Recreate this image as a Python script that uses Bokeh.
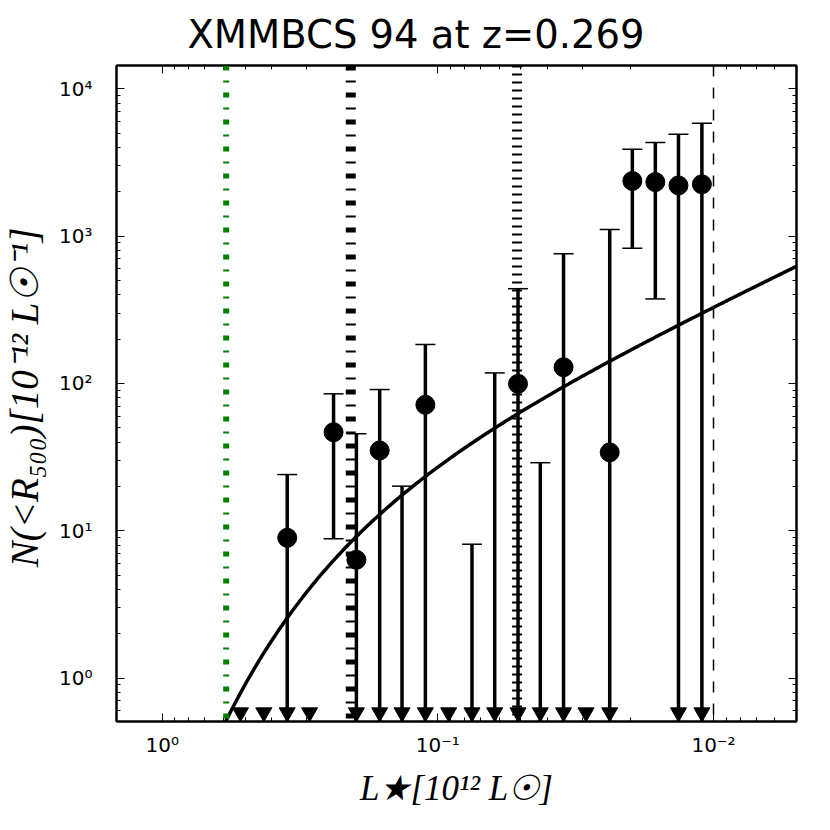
import numpy as np
from bokeh.plotting import figure
from bokeh.models import (Range1d, LogAxis, FixedTicker, CustomJSTickFormatter, Span)
from bokeh.embed import file_html
from bokeh.resources import INLINE

# ---------------- data ----------------
TITLE = "XMMBCS 94 at z=0.269"
X_LABEL = "L★[10¹² L☉]"
Y_LABEL = "N(<R₅₀₀)[10⁻¹² L☉⁻¹]"

# luminosity bins [1e12 Lsun]
lum = [0.520, 0.428, 0.352, 0.292, 0.239, 0.1975, 0.1626, 0.1349, 0.111, 0.0914,
       0.0752, 0.0622, 0.0512, 0.0425, 0.0350, 0.0290, 0.0238, 0.0197, 0.01626,
       0.0134, 0.01102]
# measured N(<R500) per bin (0 = no detection)
counts = [0, 0, 8.97, 0, 46.7, 6.36, 35.1, 0, 71.7, 0,
          0, 0, 99.5, 0, 129, 0, 34.1, 2370, 2330,
          2210, 2250]
# upper end of error bar (None = no bar)
err_hi = [None, None, 24.1, None, 85.1, 45.6, 91.0, 20.1, 184, None,
          8.1, 118, 440, 29.0, 759, None, 1110, 3890, 4320,
          4920, 5850]
# lower end of error bar (None = reaches below the axis -> upper-limit arrow)
err_lo = [None, None, None, None, 8.83, None, None, None, None, None,
          None, None, None, None, None, None, None, 828, 375,
          None, None]

# Schechter model fit
phi_star = 23.4
l_star = 0.204
alpha = -0.892

# vertical reference lines
ref_green_dashdot = 0.586
ref_black_dashdot = 0.207
ref_black_dotted = 0.0516
ref_black_dashed = 0.01

x_ticks = [1.0, 0.1, 0.01]
x_tick_labels = ["10⁰", "10⁻¹", "10⁻²"]
y_ticks = [1.0, 10.0, 100.0, 1000.0, 10000.0]
y_tick_labels = ["10⁰", "10¹", "10²", "10³", "10⁴"]

X_MAX, X_MIN = 1.465, 0.005
Y_MIN, Y_MAX = 0.508, 14400.0
TRI_Y = 0.585

# ---------------- figure ----------------
p = figure(width=822, height=822, frame_width=680, frame_height=656,
           x_axis_type="log", y_axis_type="log",
           x_range=Range1d(X_MAX, X_MIN), y_range=Range1d(Y_MIN, Y_MAX),
           output_backend="svg", toolbar_location=None,
           min_border_left=116, min_border_right=26,
           min_border_top=65, min_border_bottom=101,
           background_fill_color="white", border_fill_color="white")
p.xgrid.visible = False
p.ygrid.visible = False
p.outline_line_color = "black"
p.outline_line_width = 2

p.title.text = TITLE
p.title.text_font = "DejaVu Sans"
p.title.text_font_size = "38.5px"
p.title.text_font_style = "normal"
p.title.text_color = "black"
p.title.align = "left"
p.title.offset = 71
p.title.standoff = 18

def minor_list(lo_e, hi_e):
    out = []
    for e in range(lo_e, hi_e):
        for k in range(2, 10):
            out.append(k * 10.0 ** e)
    return out

x_ticker = FixedTicker(ticks=x_ticks, minor_ticks=minor_list(-3, 1))
y_ticker = FixedTicker(ticks=y_ticks, minor_ticks=minor_list(-1, 5))

fmt_code = """
for (let i = 0; i < tvals.length; i++) {
  if (Math.abs(Math.log10(tick) - Math.log10(tvals[i])) < 1e-6) return tlabels[i];
}
return "";
"""
x_fmt = CustomJSTickFormatter(args=dict(tvals=x_ticks, tlabels=x_tick_labels), code=fmt_code)
y_fmt = CustomJSTickFormatter(args=dict(tvals=y_ticks, tlabels=y_tick_labels), code=fmt_code)

def style_axis(ax):
    ax.axis_line_width = 2
    ax.axis_line_color = "black"
    ax.major_tick_in = 8
    ax.major_tick_out = 0
    ax.minor_tick_in = 4
    ax.minor_tick_out = 0
    ax.major_tick_line_color = "black"
    ax.minor_tick_line_color = "black"
    ax.major_tick_line_width = 1
    ax.minor_tick_line_width = 1
    ax.major_label_text_font = "DejaVu Sans"
    ax.major_label_text_font_size = "20px"
    ax.major_label_text_color = "black"

xa = p.xaxis[0]
xa.ticker = x_ticker
xa.formatter = x_fmt
style_axis(xa)
xa.major_label_standoff = 11
xa.axis_label = X_LABEL
xa.axis_label_text_font = "Liberation Serif"
xa.axis_label_text_font_style = "italic"
xa.axis_label_text_font_size = "35px"
xa.axis_label_text_color = "black"
xa.axis_label_standoff = 9

ya = p.yaxis[0]
ya.ticker = y_ticker
ya.formatter = y_fmt
style_axis(ya)
ya.major_label_standoff = 24
ya.axis_label = Y_LABEL
ya.axis_label_text_font = "Liberation Serif"
ya.axis_label_text_font_style = "italic"
ya.axis_label_text_font_size = "39px"
ya.axis_label_text_color = "black"
ya.axis_label_standoff = 10

top = LogAxis(ticker=FixedTicker(ticks=x_ticks, minor_ticks=minor_list(-3, 1)),
              formatter=CustomJSTickFormatter(code="return '';"))
style_axis(top)
top.major_label_text_font_size = "0px"
top.major_label_standoff = 0
p.add_layout(top, "above")
p.above = [top] + [r for r in p.above if r is not top]

right = LogAxis(ticker=FixedTicker(ticks=y_ticks, minor_ticks=minor_list(-1, 5)),
                formatter=CustomJSTickFormatter(code="return '';"))
style_axis(right)
right.major_label_text_font_size = "0px"
right.major_label_standoff = 0
p.add_layout(right, "right")

# ---------------- reference lines ----------------
p.add_layout(Span(location=ref_green_dashdot, dimension="height", line_color="#008000",
                  line_width=6, line_dash="5 10 2 10"))
p.add_layout(Span(location=ref_black_dashdot, dimension="height", line_color="black",
                  line_width=10, line_dash="5 10 2 10"))
p.add_layout(Span(location=ref_black_dotted, dimension="height", line_color="black",
                  line_width=10, line_dash="2 6"))
p.add_layout(Span(location=ref_black_dashed, dimension="height", line_color="black",
                  line_width=1.5, line_dash="11 11"))

# ---------------- model curve ----------------
lgrid = np.logspace(np.log10(X_MAX), np.log10(X_MIN), 400)
model = phi_star * (lgrid / l_star) ** alpha * np.exp(-lgrid / l_star)
p.line(lgrid, model, line_color="black", line_width=3.5)

# ---------------- error bars ----------------
bx, by0, by1 = [], [], []
cap_x, cap_y = [], []
for L, hi, lo in zip(lum, err_hi, err_lo):
    if hi is None:
        continue
    bx.append(L)
    by1.append(hi)
    by0.append(lo if lo is not None else Y_MIN)
    cap_x.append(L); cap_y.append(hi)
    if lo is not None:
        cap_x.append(L); cap_y.append(lo)
p.segment(x0=bx, y0=by0, x1=bx, y1=by1, line_color="black", line_width=3.5)
p.scatter(cap_x, cap_y, marker="dash", size=20, line_color="black", line_width=1.5)

# upper-limit arrows at the bottom
tri_x = [L for L, lo in zip(lum, err_lo) if lo is None]
p.scatter(tri_x, [TRI_Y] * len(tri_x), marker="inverted_triangle", size=16,
          fill_color="black", line_color="black")

# detected points
px = [L for L, c in zip(lum, counts) if c > 0]
py = [c for c in counts if c > 0]
p.scatter(px, py, marker="circle", size=19, fill_color="black", line_color="black")

open("out.html", "w").write(file_html(p, INLINE))
